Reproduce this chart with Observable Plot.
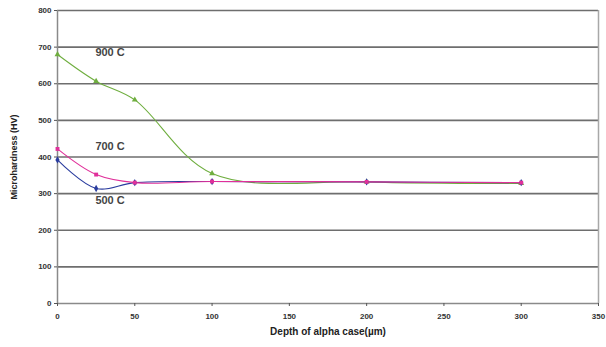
<!DOCTYPE html>
<html>
<head>
<meta charset="utf-8">
<script src="https://cdn.jsdelivr.net/npm/d3@7"></script>
<script src="https://cdn.jsdelivr.net/npm/@observablehq/plot@0.6"></script>
<style>
  html, body { margin: 0; padding: 0; background: #fff; }
  #chart svg { display: block; font-family: "Liberation Sans", Arial, sans-serif; }
</style>
</head>
<body>
<div id="chart"></div>
<script>
// Depth below surface (µm) at which microhardness was measured
const depth = [0, 25, 50, 100, 200, 300];

// Microhardness (HV) per heat-treatment temperature
const hv900 = [680, 607, 556, 355, 332, 328];
const hv700 = [422, 352, 330, 333, 332, 330];
const hv500 = [392, 314, 330, 333, 332, 330];

const seriesNames = ["900 C", "500 C", "700 C"];
const seriesValues = [hv900, hv500, hv700];
const seriesColors = ["#6fae3f", "#2a3c9e", "#e0309a"];
const seriesSymbols = ["triangle", "diamond", "square"];

// Curve labels, placed in data units next to each curve
const labelText = ["900 C", "700 C", "500 C"];
const labelDepth = [34, 34, 34];
const labelHV = [685, 428, 281];

const xTicks = [0, 50, 100, 150, 200, 250, 300, 350];
const yTicks = [0, 100, 200, 300, 400, 500, 600, 700, 800];

const rows = seriesNames.flatMap((name, i) =>
  depth.map((d, j) => ({series: name, depth: d, hv: seriesValues[i][j]}))
);
const labels = labelText.map((t, i) => ({text: t, depth: labelDepth[i], hv: labelHV[i]}));

const chart = Plot.plot({
  width: 606,
  height: 347,
  marginLeft: 57,
  marginRight: 8,
  marginTop: 10,
  marginBottom: 44,
  x: {domain: [0, 350], ticks: xTicks},
  y: {domain: [0, 800], ticks: yTicks},
  color: {domain: seriesNames, range: seriesColors},
  symbol: {domain: seriesNames, range: seriesSymbols},
  style: {fontFamily: "Liberation Sans, Arial, sans-serif"},
  marks: [
    // horizontal gridlines
    Plot.ruleY(yTicks.filter(v => v > 0), {stroke: "#6e6e6e", strokeWidth: 1.6}),
    // plot-area border on the right
    Plot.ruleX([350], {stroke: "#a8a8a8", strokeWidth: 1.5}),
    // axis lines
    Plot.ruleX([0], {stroke: "#8a8a8a", strokeWidth: 1.5}),
    Plot.ruleY([0], {stroke: "#8a8a8a", strokeWidth: 1.5}),
    Plot.axisX({
      ticks: xTicks, tickSize: 3, tickPadding: 7, stroke: "#555",
      fontSize: 8, fontWeight: "bold", fill: "#333",
      label: "Depth of alpha case(µm)", labelAnchor: "center", labelArrow: "none",
      labelOffset: 31
    }),
    Plot.axisY({
      ticks: yTicks, tickSize: 3, tickPadding: 3, stroke: "#555",
      fontSize: 8, fontWeight: "bold", fill: "#333",
      label: "Microhardness (HV)", labelAnchor: "center", labelArrow: "none",
      labelOffset: 47
    }),
    // smoothed hardness profiles
    Plot.line(rows, {
      x: "depth", y: "hv", z: "series", stroke: "series",
      curve: "catmull-rom", strokeWidth: 1.1
    }),
    Plot.dot(rows, {
      x: "depth", y: "hv", fill: "series", symbol: "series", r: 2.2, stroke: "none"
    }),
    Plot.text(labels, {
      x: "depth", y: "hv", text: "text", fontSize: 11, fontWeight: "bold",
      fill: "#444", textAnchor: "middle"
    })
  ]
});

// bold, dark axis titles
chart.querySelectorAll("[aria-label='x-axis label'] text, [aria-label='y-axis label'] text").forEach(t => {
  t.setAttribute("font-weight", "bold");
  t.setAttribute("fill", "#222");
});
chart.querySelectorAll("[aria-label='x-axis label'] text").forEach(t => t.setAttribute("font-size", 10));
chart.querySelectorAll("[aria-label='y-axis label'] text").forEach(t => t.setAttribute("font-size", 9));

document.getElementById("chart").append(chart);
</script>
</body>
</html>
